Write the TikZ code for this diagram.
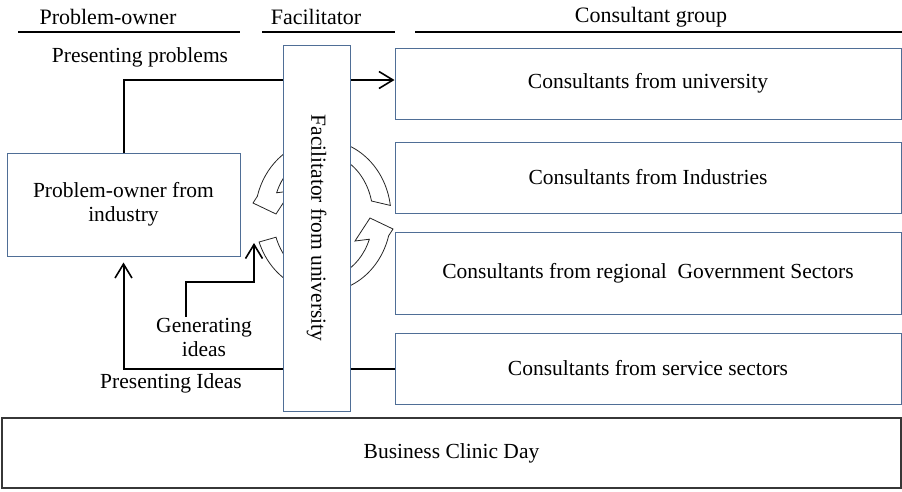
\documentclass[tikz,border=0pt]{standalone}
\usepackage{fontspec}
\setmainfont{Liberation Serif}
\usetikzlibrary{arrows.meta}
\definecolor{boxblue}{RGB}{79,110,150}
\definecolor{daygray}{RGB}{55,55,55}

\begin{document}
\begin{tikzpicture}[x=1pt,y=-1pt,font=\fontsize{21.5}{24}\selectfont,
box/.style={draw=boxblue,line width=1pt,fill=white,minimum width=506pt,minimum height=71pt,inner sep=0pt},
hdr/.style={font=\fontsize{22}{25}\selectfont},
hline/.style={line width=1.2pt},
conn/.style={line width=2pt,-{Straight Barb[length=14pt,width=17pt,line width=1.6pt]}},
cyc/.style={draw=black!85,line width=0.8pt,fill=white},
lbl/.style={align=center,inner sep=1pt}]
	\useasboundingbox (0,0) rectangle (902,491);

	%headers
	\node[hdr] (h1) at (108,17) {Problem-owner};
	\node[hdr] (h2) at (316,17) {Facilitator};
	\node[hdr] (h3) at (651,17) {Consultant group};
	\draw[hline] (18,32) -- (240,32);
	\draw[hline] (262,32) -- (395,32);
	\draw[hline] (415,32) -- (902,32);

	%consultant boxes
	\node[box] (uni) at (648,83.5) {Consultants from university};
	\node[box] (ind) at (648,177.5) {Consultants from Industries};
	\node[box,minimum height=82pt] (gov) at (648,273) {Consultants from regional\ \ Government Sectors};
	\node[box] (serv) at (648,368.5) {Consultants from service sectors};

	\node[box,minimum width=233pt,minimum height=103pt,align=center] (owner) at (123.5,204.5) {Problem-owner from\\industry};
	\node[box,draw=daygray,line width=1.4pt,minimum width=899pt,minimum height=70pt] (day) at (451.5,453) {Business Clinic Day};

	%labels
	\node[lbl] (pp) at (140,57) {Presenting problems};
	\node[lbl] (pi) at (171,383) {Presenting Ideas};
	\node[lbl] (gen) at (204,337) {Generating\\ideas};
	\coordinate (gentip) at (254,243);

	%connectors
	\draw[conn] (owner.north) |- ([yshift=3.5pt]uni.west);
	\draw[conn,shorten >=6pt] (serv.west) -| (owner.south);
	\draw[conn] ([xshift=-18pt]gen.north) |- ([yshift=-39pt]gentip) -- (gentip);

	%cycle arrows
	\begin{scope}[shift={(323,216)}]
		\draw[cyc] ({68*cos(160)},{76*sin(160)}) arc[start angle=160,end angle=15,x radius=68,y radius=76]
			-- (70,13) -- (47,2) -- (32,25) -- ({50*cos(22)},{62*sin(22)})
			arc[start angle=22,end angle=160,x radius=50,y radius=62] -- cycle;
		\draw[cyc] ({68*cos(-8)},{76*sin(-8)}) arc[start angle=-8,end angle=-165,x radius=68,y radius=76]
			-- (-70,-13) -- (-47,-2) -- (-32,-25) -- ({50*cos(-158)},{62*sin(-158)})
			arc[start angle=-158,end angle=-14,x radius=50,y radius=62] -- cycle;
	\end{scope}

	\node[box,rotate=-90,minimum width=366pt,minimum height=67pt] (fac) at (316.5,228) {Facilitator from university};
\end{tikzpicture}
\end{document}
